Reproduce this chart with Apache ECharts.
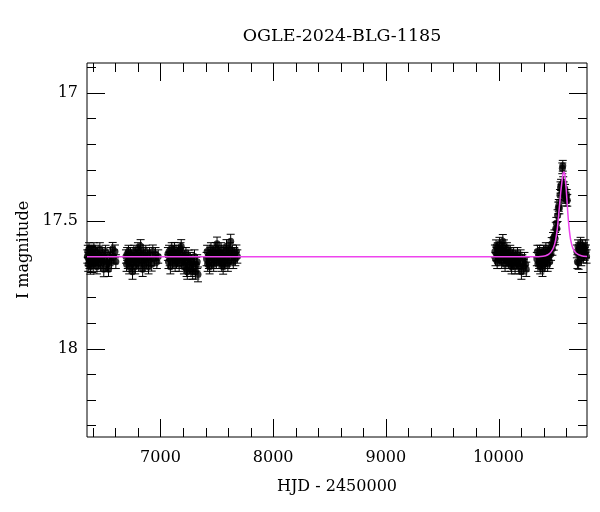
<!DOCTYPE html>
<html>
<head>
<meta charset="utf-8">
<script src="https://cdn.jsdelivr.net/npm/echarts@6/dist/echarts.min.js"></script>
<style>html,body{margin:0;padding:0;background:#fff}#c{width:600px;height:512px}</style>
</head>
<body>
<div id="c"></div>
<script>
// ---- data: [HJD-2450000, I mag, error] ----
const season1 = [[6351,17.64,.026],[6355,17.62,.024],[6359,17.67,.028],[6362,17.65,.026],[6366,17.61,.024],[6370,17.66,.027],[6374,17.63,.025],[6378,17.68,.029],[6382,17.64,.025],[6386,17.62,.024],[6390,17.66,.027],[6395,17.65,.026],[6399,17.63,.025],[6404,17.67,.028],[6409,17.61,.024],[6414,17.64,.025],[6419,17.66,.027],[6424,17.62,.024],[6430,17.65,.026],[6436,17.68,.028],[6442,17.63,.025],[6448,17.66,.027],[6455,17.64,.025],[6462,17.61,.024],[6469,17.67,.028],[6476,17.65,.026],[6483,17.63,.025],[6490,17.66,.027],[6497,17.69,.029],[6505,17.64,.025],[6513,17.62,.024],[6521,17.66,.027],[6530,17.67,.028],[6539,17.69,.028],[6548,17.65,.026],[6557,17.63,.025],[6566,17.66,.027],[6576,17.61,.025],[6586,17.64,.026],[6596,17.62,.025],[6604,17.66,.027]];
const season2 = [[6694,17.64,.026],[6699,17.67,.028],[6704,17.63,.025],[6710,17.66,.027],[6716,17.62,.024],[6722,17.68,.028],[6728,17.65,.026],[6734,17.63,.025],[6740,17.67,.028],[6746,17.64,.025],[6752,17.70,.029],[6758,17.66,.027],[6764,17.62,.024],[6770,17.65,.026],[6776,17.68,.028],[6782,17.63,.025],[6788,17.66,.027],[6794,17.64,.025],[6800,17.61,.024],[6806,17.67,.028],[6812,17.65,.026],[6818,17.62,.025],[6824,17.60,.026],[6830,17.64,.025],[6836,17.66,.027],[6842,17.69,.028],[6848,17.63,.025],[6855,17.67,.028],[6862,17.65,.026],[6870,17.62,.024],[6878,17.66,.027],[6886,17.64,.025],[6894,17.68,.028],[6903,17.63,.025],[6912,17.65,.026],[6922,17.67,.027],[6932,17.62,.025],[6944,17.65,.026],[6956,17.63,.025],[6968,17.66,.027],[6980,17.64,.026]];
const season3 = [[7066,17.63,.025],[7071,17.66,.027],[7076,17.62,.024],[7082,17.65,.026],[7088,17.68,.028],[7094,17.63,.025],[7100,17.61,.024],[7106,17.66,.027],[7112,17.64,.025],[7118,17.62,.024],[7124,17.61,.025],[7130,17.67,.028],[7136,17.64,.025],[7142,17.66,.027],[7148,17.63,.025],[7154,17.65,.026],[7160,17.62,.024],[7166,17.67,.028],[7172,17.64,.025],[7178,17.61,.024],[7184,17.60,.026],[7190,17.66,.027],[7196,17.63,.025],[7202,17.65,.026],[7208,17.68,.028],[7214,17.64,.025],[7220,17.66,.027],[7226,17.63,.025],[7232,17.69,.028],[7238,17.70,.029],[7244,17.66,.027],[7250,17.64,.025],[7257,17.68,.028],[7264,17.65,.026],[7271,17.69,.028],[7278,17.66,.027],[7286,17.70,.029],[7294,17.67,.028],[7302,17.64,.026],[7310,17.70,.028],[7318,17.67,.027],[7326,17.66,.027],[7333,17.71,.029]];
const season4 = [[7409,17.65,.026],[7414,17.62,.024],[7419,17.67,.028],[7424,17.64,.025],[7430,17.66,.027],[7436,17.68,.028],[7442,17.63,.025],[7448,17.61,.024],[7454,17.66,.027],[7460,17.64,.025],[7466,17.62,.024],[7472,17.67,.028],[7478,17.65,.026],[7484,17.63,.025],[7490,17.61,.025],[7496,17.66,.027],[7502,17.59,.026],[7508,17.64,.025],[7514,17.62,.024],[7520,17.66,.027],[7526,17.63,.025],[7532,17.65,.026],[7538,17.61,.024],[7544,17.67,.028],[7550,17.64,.025],[7556,17.68,.029],[7562,17.63,.025],[7568,17.66,.027],[7574,17.62,.024],[7580,17.65,.026],[7586,17.60,.026],[7592,17.64,.025],[7598,17.67,.028],[7604,17.63,.025],[7610,17.66,.027],[7616,17.61,.024],[7623,17.58,.027],[7630,17.64,.025],[7638,17.62,.025],[7646,17.66,.027],[7655,17.63,.025],[7664,17.65,.026],[7674,17.62,.025],[7682,17.64,.026]];
const season5 = [[9968,17.62,.025],[9973,17.65,.026],[9978,17.60,.025],[9983,17.63,.025],[9988,17.66,.027],[9993,17.61,.024],[9998,17.64,.025],[10003,17.62,.024],[10008,17.59,.025],[10013,17.65,.026],[10018,17.63,.025],[10023,17.61,.024],[10028,17.66,.027],[10033,17.62,.024],[10038,17.58,.026],[10043,17.64,.025],[10048,17.60,.025],[10053,17.63,.025],[10058,17.67,.028],[10063,17.62,.024],[10068,17.65,.026],[10074,17.61,.024],[10080,17.64,.025],[10086,17.66,.027],[10092,17.63,.025],[10098,17.65,.026],[10104,17.62,.024],[10110,17.67,.028],[10116,17.68,.028],[10122,17.64,.025],[10128,17.66,.027],[10134,17.63,.025],[10140,17.65,.026],[10147,17.68,.028],[10154,17.64,.025],[10161,17.66,.027],[10168,17.63,.025],[10175,17.67,.028],[10182,17.65,.026],[10189,17.68,.028],[10196,17.64,.026],[10203,17.70,.029],[10211,17.66,.027],[10220,17.68,.028],[10230,17.65,.026],[10240,17.67,.027],[10246,17.69,.028]];
const season6 = [[10340,17.65,.026],[10345,17.62,.024],[10350,17.67,.028],[10355,17.64,.025],[10360,17.66,.027],[10365,17.62,.024],[10370,17.68,.028],[10375,17.64,.025],[10380,17.66,.027],[10385,17.63,.025],[10390,17.69,.028],[10395,17.65,.026],[10400,17.62,.024],[10405,17.67,.028],[10410,17.64,.025],[10415,17.66,.027],[10420,17.61,.024],[10425,17.65,.026],[10430,17.63,.025],[10436,17.67,.028],[10442,17.62,.024],[10448,17.64,.025],[10454,17.66,.027],[10460,17.61,.024],[10466,17.63,.025],[10472,17.59,.024],[10478,17.61,.025],[10484,17.57,.024],[10490,17.59,.025],[10496,17.56,.024],[10502,17.57,.024],[10508,17.53,.024],[10513,17.51,.023],[10518,17.53,.024],[10524,17.48,.023],[10530,17.45,.023],[10535,17.44,.023],[10540,17.45,.023],[10545,17.40,.022],[10550,17.37,.022],[10555,17.36,.022],[10560,17.38,.022],[10566,17.295,.021],[10570,17.285,.021],[10574,17.35,.022],[10578,17.37,.022],[10582,17.39,.022],[10586,17.40,.022],[10590,17.38,.022],[10595,17.41,.022],[10600,17.42,.022],[10605,17.40,.022],[10610,17.42,.023]];
const season7 = [[10695,17.62,.025],[10700,17.66,.027],[10705,17.60,.025],[10711,17.664,.026],[10716,17.61,.024],[10722,17.63,.025],[10728,17.59,.025],[10734,17.65,.026],[10740,17.62,.024],[10746,17.60,.025],[10752,17.64,.025],[10758,17.61,.024],[10764,17.63,.025],[10770,17.60,.025],[10776,17.62,.025],[10781,17.64,.026]];
// model curve: [HJD-2450000, I mag]
const modelCurve = [[6348,17.641],[10300,17.641],[10395,17.639],[10438,17.633],[10468,17.621],[10489,17.604],[10507,17.575],[10522,17.530],[10536,17.465],[10551,17.393],[10566,17.334],[10571,17.318],[10577,17.309],[10583,17.311],[10589,17.321],[10601,17.380],[10613,17.458],[10625,17.523],[10640,17.575],[10660,17.608],[10690,17.627],[10735,17.637],[10785,17.640]];
const xMajorTicks = [7000, 8000, 9000, 10000];
const yMajorTicks = [17, 17.5, 18];
const X_MIN = 6348, X_MAX = 10785, Y_MIN = 16.883, Y_MAX = 18.346;
const titleText = 'OGLE-2024-BLG-1185';
const xName = 'HJD - 2450000';
const yName = 'I magnitude';

const observations = [].concat(season1, season2, season3, season4, season5, season6, season7);
const FONT = 'DejaVu Serif';

const chart = echarts.init(document.getElementById('c'), null, {renderer: 'canvas'});

function errorBarItem(params, api) {
  const t = api.value(0), m = api.value(1), e = api.value(2);
  const p = api.coord([t, m - e]);
  const q = api.coord([t, m + e]);
  const st = {stroke: '#000', lineWidth: 1};
  return {type: 'group', children: [
    {type: 'line', shape: {x1: p[0], y1: p[1], x2: q[0], y2: q[1]}, style: st},
    {type: 'line', shape: {x1: p[0] - 4, y1: p[1], x2: p[0] + 4, y2: p[1]}, style: st},
    {type: 'line', shape: {x1: q[0] - 4, y1: q[1], x2: q[0] + 4, y2: q[1]}, style: st}
  ]};
}

function ticksItem(params, api) {
  const children = [];
  const st = {stroke: '#000', lineWidth: 1};
  const MAJ = 18, MIN = 9;
  for (let v = 6400; v <= X_MAX; v += 200) {
    const len = (v % 1000 === 0) ? MAJ : MIN;
    const b = api.coord([v, Y_MAX]);
    const t = api.coord([v, Y_MIN]);
    const x = Math.round(b[0]) + 0.5;
    children.push({type: 'line', shape: {x1: x, y1: b[1], x2: x, y2: b[1] - len}, style: st});
    children.push({type: 'line', shape: {x1: x, y1: t[1], x2: x, y2: t[1] + len}, style: st});
  }
  for (let k = 169; k <= 183; k++) {
    const v = k / 10;
    const len = (k % 5 === 0) ? MAJ : MIN;
    const l = api.coord([X_MIN, v]);
    const r = api.coord([X_MAX, v]);
    const y = Math.round(l[1]) + 0.5;
    children.push({type: 'line', shape: {x1: l[0], y1: y, x2: l[0] + len, y2: y}, style: st});
    children.push({type: 'line', shape: {x1: r[0], y1: y, x2: r[0] - len, y2: y}, style: st});
  }
  return {type: 'group', children};
}

chart.setOption({
  animation: false,
  backgroundColor: '#fff',
  title: {
    text: titleText, left: 337, top: 22, textAlign: 'center',
    textStyle: {fontFamily: FONT, fontSize: 17.5, fontWeight: 'normal', color: '#000'}
  },
  grid: {left: 87, right: 13, top: 63, bottom: 75, show: true, borderColor: '#000', borderWidth: 1, backgroundColor: 'transparent'},
  xAxis: {
    type: 'value', min: X_MIN, max: X_MAX, minInterval: 1000, maxInterval: 1000,
    name: xName, nameLocation: 'middle', nameGap: 42,
    nameTextStyle: {fontFamily: FONT, fontSize: 16, color: '#000'},
    axisLine: {show: false}, axisTick: {show: false}, splitLine: {show: false},
    axisLabel: {
      fontFamily: FONT, fontSize: 16, color: '#000', margin: 13,
      showMinLabel: false, showMaxLabel: false,
      formatter: v => xMajorTicks.indexOf(v) >= 0 ? String(v) : ''
    }
  },
  yAxis: {
    type: 'value', inverse: true, min: Y_MIN, max: Y_MAX, minInterval: 0.5, maxInterval: 0.5,
    name: yName, nameLocation: 'middle', nameGap: 55, nameRotate: 90,
    nameTextStyle: {fontFamily: FONT, fontSize: 16, color: '#000'},
    axisLine: {show: false}, axisTick: {show: false}, splitLine: {show: false},
    axisLabel: {
      fontFamily: FONT, fontSize: 16, color: '#000', margin: 9,
      showMinLabel: false, showMaxLabel: false,
      formatter: v => yMajorTicks.indexOf(v) >= 0 ? String(v) : ''
    }
  },
  series: [
    {type: 'custom', name: 'ticks', data: [[X_MIN, Y_MIN]], renderItem: ticksItem, silent: true, z: 5},
    {type: 'custom', name: 'errors', data: observations, renderItem: errorBarItem, encode: {x: 0, y: 1}, silent: true, z: 2},
    {type: 'scatter', name: 'obs', data: observations.map(d => [d[0], d[1]]), symbol: 'circle', symbolSize: 7,
      itemStyle: {color: '#000'}, silent: true, z: 3},
    {type: 'line', name: 'model', data: modelCurve, smooth: 0.3, showSymbol: false, symbol: 'none',
      lineStyle: {color: '#ee44ee', width: 1.5}, silent: true, z: 4}
  ]
});
</script>
</body>
</html>
